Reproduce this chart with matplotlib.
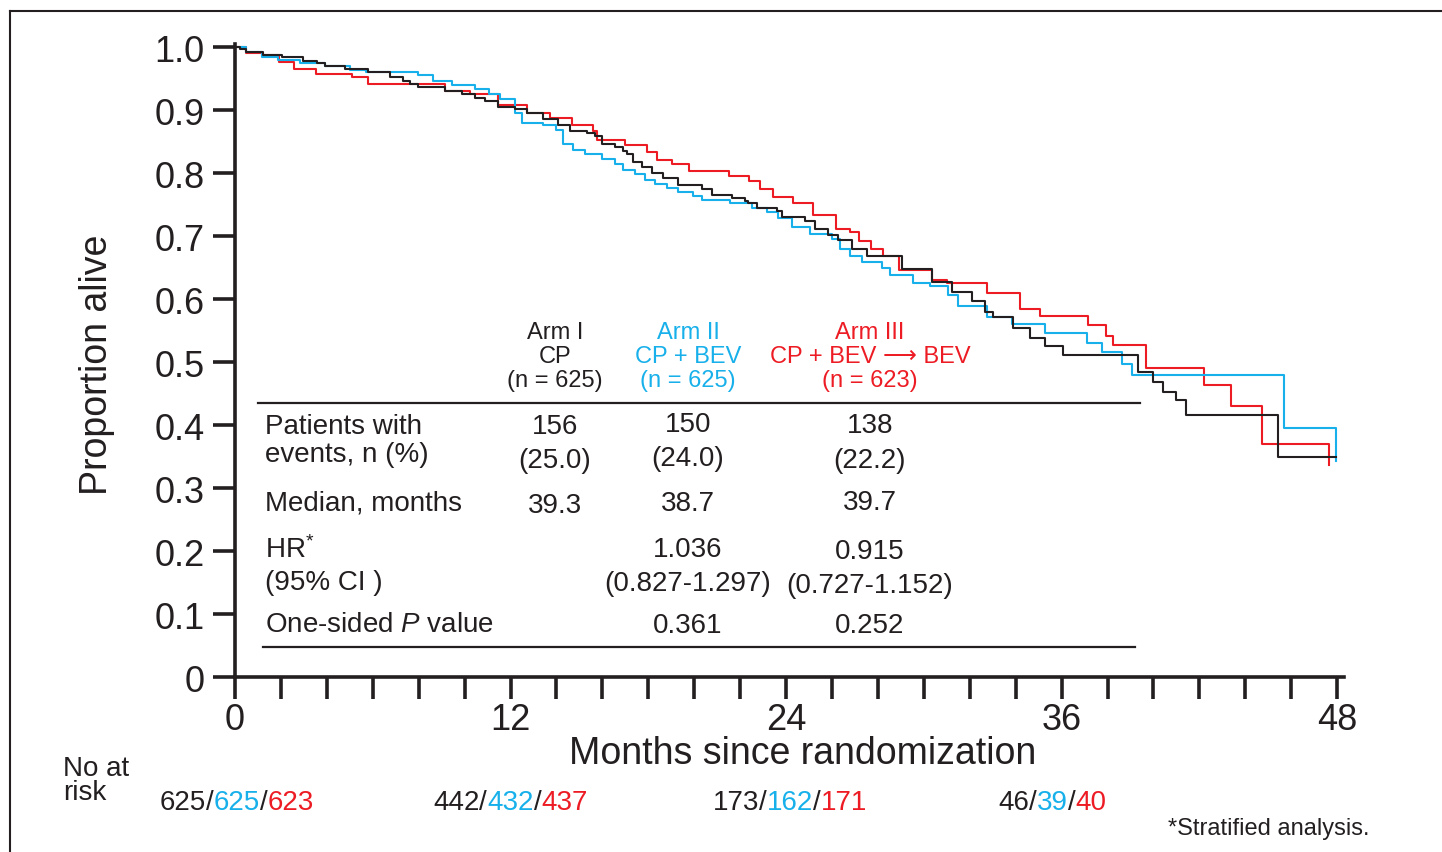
import matplotlib.pyplot as plt
from matplotlib.lines import Line2D

plt.rcParams['font.family'] = ['Liberation Sans', 'DejaVu Sans']
plt.rcParams['mathtext.fontset'] = 'custom'
plt.rcParams['mathtext.rm'] = 'Liberation Sans'
plt.rcParams['mathtext.it'] = 'Liberation Sans:italic'

BLACK = '#231f20'
BLUE = '#17b0ea'
RED = '#ed1c24'

# Kaplan-Meier curves (months, proportion alive)
arm1_t = [0, 0.22, 0.48, 1.22, 2.05, 2.96, 3.57, 3.92, 4.79, 5.79, 6.75, 7.32, 7.62, 7.97,
          9.15, 9.89, 10.45, 10.89, 11.45, 12.2, 12.72, 13.41, 14.07, 14.59, 15.33, 15.68,
          15.98, 16.55, 16.9, 17.07, 17.33, 17.73, 18.16, 18.64, 19.29, 20.34, 20.78, 21.65,
          22.21, 22.34, 22.74, 23.61, 23.82, 24.83, 25.26, 25.83, 26.26, 26.87, 27.53, 29.05,
          30.36, 31.23, 32.1, 32.67, 33.01, 33.89, 34.63, 35.28, 36.06, 39.33, 39.98, 40.42,
          40.98, 41.42, 45.43, 47.95]
arm1_s = [1.0, 0.997, 0.993, 0.988, 0.984, 0.978, 0.975, 0.970, 0.965, 0.961, 0.953, 0.947,
          0.941, 0.936, 0.930, 0.925, 0.919, 0.914, 0.905, 0.902, 0.895, 0.886, 0.877, 0.867,
          0.863, 0.859, 0.846, 0.841, 0.835, 0.830, 0.818, 0.810, 0.800, 0.792, 0.781, 0.775,
          0.766, 0.761, 0.756, 0.752, 0.745, 0.740, 0.731, 0.724, 0.712, 0.702, 0.694, 0.679,
          0.668, 0.648, 0.627, 0.612, 0.597, 0.580, 0.571, 0.554, 0.539, 0.526, 0.512, 0.484,
          0.468, 0.452, 0.439, 0.416, 0.349, 0.349]

arm2_t = [0, 0.5, 1.18, 1.87, 2.83, 3.9, 5.0, 5.7, 7.97, 8.62, 9.45, 10.45, 11.05, 11.55,
          12.2, 12.5, 13.4, 14.0, 14.28, 14.72, 15.25, 16.0, 16.55, 16.9, 17.42, 17.85, 18.29,
          18.81, 19.29, 19.95, 20.34, 21.56, 22.52, 23.17, 23.65, 24.26, 25.04, 25.98, 26.35,
          26.78, 27.3, 28.19, 28.53, 29.52, 30.28, 31.05, 31.5, 32.75, 33.84, 35.28, 37.1,
          37.76, 38.63, 39.07, 45.69, 47.95]
arm2_s = [1.0, 0.993, 0.985, 0.980, 0.975, 0.970, 0.963, 0.960, 0.955, 0.947, 0.940, 0.933,
          0.926, 0.917, 0.896, 0.880, 0.877, 0.868, 0.846, 0.836, 0.830, 0.823, 0.815, 0.805,
          0.798, 0.789, 0.783, 0.776, 0.770, 0.764, 0.757, 0.752, 0.744, 0.738, 0.729, 0.714,
          0.703, 0.695, 0.680, 0.669, 0.659, 0.650, 0.638, 0.626, 0.621, 0.606, 0.589, 0.571,
          0.560, 0.546, 0.530, 0.516, 0.497, 0.479, 0.395, 0.343]

arm3_t = [0, 0.5, 1.22, 1.92, 2.57, 3.53, 5.1, 5.8, 9.15, 10.24, 11.45, 12.72, 13.72, 14.68,
          15.59, 15.77, 16.99, 17.94, 18.38, 19.03, 19.77, 21.52, 22.39, 22.87, 23.43, 24.3,
          25.17, 26.18, 26.79, 27.18, 27.7, 28.22, 28.92, 30.36, 31.01, 32.75, 34.19, 35.06,
          37.15, 37.94, 38.24, 39.68, 42.2, 43.38, 44.73, 47.65]
arm3_s = [1.0, 0.990, 0.987, 0.977, 0.966, 0.957, 0.952, 0.941, 0.931, 0.925, 0.908, 0.896,
          0.887, 0.876, 0.867, 0.852, 0.844, 0.833, 0.821, 0.814, 0.804, 0.796, 0.788, 0.774,
          0.762, 0.752, 0.733, 0.712, 0.706, 0.693, 0.680, 0.668, 0.646, 0.630, 0.626, 0.609,
          0.585, 0.573, 0.559, 0.541, 0.527, 0.490, 0.463, 0.430, 0.370, 0.336]

y_ticks = [0, 0.1, 0.2, 0.3, 0.4, 0.5, 0.6, 0.7, 0.8, 0.9, 1.0]
y_labels = ['0', '0.1', '0.2', '0.3', '0.4', '0.5', '0.6', '0.7', '0.8', '0.9', '1.0']
x_ticks = list(range(0, 49, 2))
x_labels = [str(m) if m % 12 == 0 else '' for m in x_ticks]

# at-risk numbers: (arm I, arm II, arm III)
risk_counts = [('625', '625', '623'), ('442', '432', '437'),
               ('173', '162', '171'), ('46', '39', '40')]

W, H = 1442, 853


def fx(px):
    return px / W


def fy(py):
    return 1 - py / H


fig = plt.figure(figsize=(14.42, 8.53), dpi=100)
ax = fig.add_axes([fx(235), fy(678), fx(1344) - fx(235), fy(45) - fy(678)])

ax.step(arm3_t, arm3_s, where='post', color=RED, lw=1.5)
ax.step(arm2_t, arm2_s, where='post', color=BLUE, lw=1.5)
ax.step(arm1_t, arm1_s, where='post', color=BLACK, lw=1.5)

ax.set_xlim(0, 48.3)
ax.set_ylim(0, 1.005)
for side in ['top', 'right']:
    ax.spines[side].set_visible(False)
for side in ['left', 'bottom']:
    ax.spines[side].set_linewidth(2.6)
    ax.spines[side].set_color(BLACK)

ax.set_yticks(y_ticks)
ax.set_yticklabels(y_labels)
ax.set_xticks(x_ticks)
ax.set_xticklabels(x_labels)
ax.tick_params(axis='y', length=16, width=2.6, pad=6, labelsize=26, color=BLACK, labelcolor=BLACK)
ax.tick_params(axis='x', length=16, width=2.6, pad=2, labelsize=26, color=BLACK, labelcolor=BLACK)

fig.text(fx(97), fy(365), 'Proportion alive', rotation=90, ha='center', va='center',
         fontsize=27, color=BLACK)
fig.text(fx(803), fy(754), 'Months since randomization', ha='center', va='center',
         fontsize=27, color=BLACK)

# inset table
hdr = 17
body = 20
cols = [(555, BLACK, ['Arm I', 'CP', '(n = 625)']),
        (688, BLUE, ['Arm II', 'CP + BEV', '(n = 625)']),
        (870, RED, ['Arm III', 'CP + BEV \u27f6 BEV', '(n = 623)'])]
for cx, c, lines in cols:
    for py, s in zip([333, 357, 381], lines):
        fig.text(fx(cx), fy(py), s, ha='center', va='center', fontsize=hdr, color=c)

fig.add_artist(Line2D([fx(258), fx(1140)], [fy(404), fy(404)], color=BLACK, lw=1.6))
fig.add_artist(Line2D([fx(263), fx(1135)], [fy(648), fy(648)], color=BLACK, lw=1.6))

row_labels = [(427, 'Patients with'), (455, 'events, n (%)'), (504, 'Median, months'),
              (550, 'HR$^{*}$'), (583, '(95% CI )'), (625, 'One-sided $\\it{P}$ value')]
for py, s in row_labels:
    fig.text(fx(265), fy(py), s, ha='left', va='center', fontsize=body, color=BLACK)

cells = [(555, 427, '156'), (555, 461, '(25.0)'), (555, 506, '39.3'),
         (688, 425, '150'), (688, 459, '(24.0)'), (688, 504, '38.7'),
         (688, 550, '1.036'), (688, 584, '(0.827-1.297)'), (688, 626, '0.361'),
         (870, 426, '138'), (870, 461, '(22.2)'), (870, 503, '39.7'),
         (870, 552, '0.915'), (870, 586, '(0.727-1.152)'), (870, 626, '0.252')]
for cx, py, s in cells:
    fig.text(fx(cx), fy(py), s, ha='center', va='center', fontsize=body, color=BLACK)

# numbers at risk
fig.text(fx(63), fy(769), 'No at', ha='left', va='center', fontsize=20, color=BLACK)
fig.text(fx(63), fy(793), 'risk', ha='left', va='center', fontsize=20, color=BLACK)
starts = [160, 433, 713, 998]
for px, (a, b, c) in zip(starts, risk_counts):
    parts = [(a, BLACK), ('/', BLACK), (b, BLUE), ('/', BLACK), (c, RED)]
    t = ax.annotate(parts[0][0], xy=(fx(px), fy(816)), xycoords='figure fraction',
                    va='bottom', ha='left', fontsize=20, color=parts[0][1],
                    annotation_clip=False)
    for s, col in parts[1:]:
        t = ax.annotate(s, xy=(1, 0), xycoords=t, va='bottom', ha='left',
                        fontsize=20, color=col, annotation_clip=False)

fig.text(fx(1370), fy(829), '*Stratified analysis.', ha='right', va='center',
         fontsize=17, color=BLACK)

# outer frame (top and left edges)
fig.add_artist(Line2D([fx(10), 1], [fy(12), fy(12)], color=BLACK, lw=1.5))
fig.add_artist(Line2D([fx(10), fx(10)], [0, fy(12)], color=BLACK, lw=1.5))

fig.savefig('out.png', dpi=100)
